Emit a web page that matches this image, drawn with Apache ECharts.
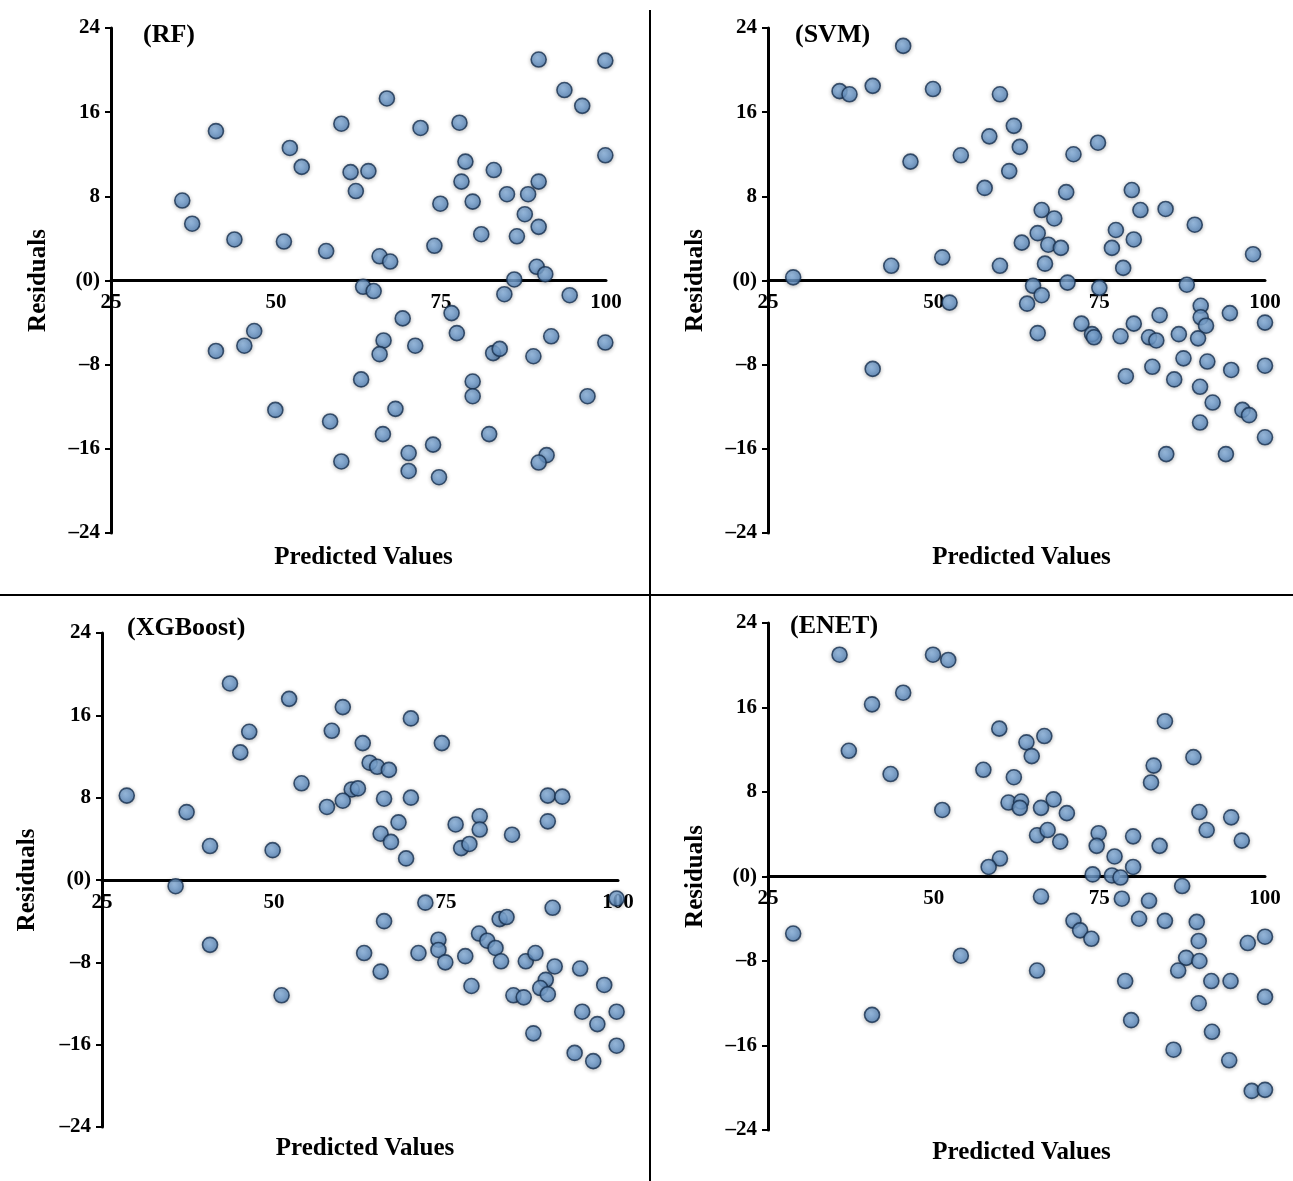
<!DOCTYPE html>
<html>
<head>
<meta charset="utf-8">
<script src="https://cdn.jsdelivr.net/npm/echarts@6/dist/echarts.min.js"></script>
<style>
  html, body { margin: 0; padding: 0; background: #fff; }
  #chart { width: 1293px; height: 1181px; }
</style>
</head>
<body>
<div id="chart"></div>
<script>
// residual plots, [predicted, residual]
const panelNames = ['(RF)', '(SVM)', '(XGBoost)', '(ENET)'];
const xTicks = [25, 50, 75, 100];
const yTicks = [-24, -16, -8, 0, 8, 16, 24];

const rfPoints = [
  [89.8,21.0],[99.9,20.9],[93.7,18.1],[96.4,16.6],[99.9,11.9],[66.8,17.3],[59.9,14.9],[40.9,14.2],
  [71.9,14.5],[77.8,15.0],[52.1,12.6],[53.9,10.8],[61.3,10.3],[64.0,10.4],[62.1,8.5],[78.7,11.3],
  [83.0,10.5],[78.1,9.4],[89.8,9.4],[35.8,7.6],[74.9,7.3],[79.8,7.5],[85.0,8.2],[88.2,8.2],
  [87.7,6.3],[89.8,5.1],[37.3,5.4],[43.7,3.9],[51.2,3.7],[57.6,2.8],[74.0,3.3],[81.1,4.4],
  [86.5,4.2],[65.7,2.3],[67.3,1.8],[89.5,1.3],[90.8,0.6],[86.1,0.1],[63.2,-0.6],[64.8,-1.0],
  [84.6,-1.3],[94.5,-1.4],[76.6,-3.1],[69.2,-3.6],[46.7,-4.8],[77.4,-5.0],[91.7,-5.3],[66.3,-5.7],
  [45.2,-6.2],[71.1,-6.2],[99.9,-5.9],[40.9,-6.7],[65.7,-7.0],[82.9,-6.9],[83.9,-6.5],[89.0,-7.2],
  [62.9,-9.4],[79.8,-9.6],[79.8,-11.0],[97.2,-11.0],[49.9,-12.3],[68.1,-12.2],[58.2,-13.4],[66.2,-14.6],
  [82.3,-14.6],[73.8,-15.6],[70.1,-16.4],[91.0,-16.6],[59.9,-17.2],[89.8,-17.3],[70.1,-18.1],[74.7,-18.7]
];

const svmPoints = [
  [45.4,22.3],[35.8,18.0],[37.3,17.7],[40.8,18.5],[49.9,18.2],[60.0,17.7],[62.1,14.7],[58.4,13.7],
  [63.0,12.7],[74.8,13.1],[71.1,12.0],[54.1,11.9],[46.5,11.3],[61.4,10.4],[57.7,8.8],[70.0,8.4],
  [79.9,8.6],[66.3,6.7],[68.2,5.9],[81.2,6.7],[85.0,6.8],[89.4,5.3],[65.7,4.5],[63.3,3.6],
  [67.3,3.4],[69.2,3.1],[77.5,4.8],[76.9,3.1],[80.2,3.9],[51.3,2.2],[43.6,1.4],[60.0,1.4],
  [66.8,1.6],[78.6,1.2],[98.2,2.5],[28.8,0.3],[70.2,-0.2],[65.0,-0.5],[75.0,-0.7],[88.2,-0.4],
  [66.3,-1.4],[52.4,-2.1],[64.1,-2.2],[84.1,-3.3],[90.3,-2.4],[90.3,-3.5],[94.7,-3.1],[72.3,-4.1],
  [80.2,-4.1],[91.1,-4.3],[100,-4.0],[65.7,-5.0],[73.9,-5.1],[74.2,-5.4],[78.2,-5.3],[82.5,-5.4],
  [83.6,-5.7],[87.0,-5.1],[89.9,-5.5],[87.7,-7.4],[91.3,-7.7],[83.0,-8.2],[100,-8.1],[94.9,-8.5],
  [40.8,-8.4],[79.0,-9.1],[86.3,-9.4],[90.2,-10.1],[92.1,-11.6],[96.6,-12.3],[97.6,-12.8],[90.2,-13.5],
  [100,-14.9],[85.1,-16.5],[94.1,-16.5]
];

const xgbPoints = [
  [43.6,19.1],[52.2,17.6],[60.0,16.8],[69.9,15.7],[46.4,14.4],[58.4,14.5],[62.9,13.3],[74.4,13.3],
  [45.1,12.4],[63.9,11.4],[65.0,11.0],[66.7,10.7],[54.0,9.4],[61.3,8.8],[62.2,8.9],[28.6,8.2],
  [89.8,8.2],[91.9,8.1],[66.0,7.9],[69.9,8.0],[60.0,7.7],[57.7,7.1],[37.3,6.6],[79.9,6.2],
  [89.8,5.7],[68.1,5.6],[76.4,5.4],[79.9,4.9],[84.6,4.4],[65.5,4.5],[67.0,3.7],[40.7,3.3],
  [49.8,2.9],[77.2,3.1],[78.4,3.5],[69.2,2.1],[35.7,-0.6],[72.0,-2.2],[90.5,-2.7],[99.8,-1.8],
  [66.0,-4.0],[82.8,-3.8],[83.8,-3.6],[40.7,-6.3],[79.8,-5.2],[81.0,-5.9],[73.9,-5.8],[73.9,-6.8],
  [82.2,-6.6],[63.1,-7.1],[71.0,-7.1],[74.9,-8.0],[77.8,-7.4],[83.0,-7.9],[86.6,-7.9],[88.0,-7.1],
  [90.8,-8.4],[94.5,-8.6],[65.5,-8.9],[78.7,-10.3],[98.0,-10.2],[89.5,-9.7],[88.7,-10.5],[89.8,-11.1],
  [84.8,-11.2],[86.3,-11.4],[51.1,-11.2],[94.8,-12.8],[99.8,-12.8],[97.0,-14.0],[87.7,-14.9],[99.8,-16.1],
  [93.7,-16.8],[96.4,-17.6]
];

const enetPoints = [
  [35.8,21.0],[49.9,21.0],[52.2,20.5],[45.4,17.4],[40.7,16.3],[84.9,14.7],[59.9,14.0],[66.7,13.3],
  [64.0,12.7],[37.2,11.9],[64.8,11.4],[89.2,11.3],[83.2,10.5],[43.5,9.7],[57.5,10.1],[62.1,9.4],
  [82.8,8.9],[68.1,7.3],[61.3,7.0],[63.2,7.1],[63.0,6.5],[66.2,6.5],[51.3,6.3],[70.1,6.0],
  [90.1,6.1],[94.9,5.6],[91.2,4.4],[65.6,3.9],[67.2,4.4],[69.1,3.3],[74.9,4.1],[74.6,2.9],
  [80.1,3.8],[84.1,2.9],[96.5,3.4],[77.3,1.9],[60.0,1.7],[58.3,0.9],[80.1,0.9],[74.0,0.2],
  [76.9,0.1],[78.2,-0.1],[87.5,-0.9],[66.2,-1.9],[78.4,-2.1],[82.5,-2.3],[81.0,-4.0],[84.9,-4.2],
  [89.7,-4.3],[71.1,-4.2],[72.1,-5.1],[73.8,-5.9],[90.0,-6.1],[97.4,-6.3],[100,-5.7],[28.8,-5.4],
  [54.1,-7.5],[88.1,-7.7],[90.1,-8.0],[86.9,-8.9],[65.6,-8.9],[78.9,-9.9],[91.9,-9.9],[94.8,-9.9],
  [100,-11.4],[90.0,-12.0],[40.7,-13.1],[79.8,-13.6],[92.0,-14.7],[86.2,-16.4],[94.6,-17.4],[98.0,-20.3],
  [100,-20.2]
];

const allPoints = [rfPoints, svmPoints, xgbPoints, enetPoints];

// plot area of each panel in pixels
const grids = [
  { left: 111, top: 28, width: 495, height: 505 },
  { left: 768, top: 28, width: 497, height: 505 },
  { left: 102, top: 633, width: 516, height: 494 },
  { left: 768, top: 623, width: 497, height: 507 }
];
const nameGaps = [60, 60, 62, 60];
const xNameTop = [540, 540, 1131, 1135];
const labelPos = [[138, 17], [790, 17], [122, 610], [785, 608]];

const serif = '"Liberation Serif", "Times New Roman", serif';

function yLabel(v) {
  if (v === 0) return '(0)';
  if (v < 0) return '\u2013' + Math.abs(v);
  return String(v);
}

let chart = echarts.init(document.getElementById('chart'));

let option = {
  backgroundColor: '#fff',
  animation: false,
  title: [],
  grid: grids.map(g => ({ left: g.left, top: g.top, width: g.width, height: g.height, containLabel: false })),
  xAxis: [],
  yAxis: [],
  series: [],
  graphic: [
    { type: 'line', shape: { x1: 650, y1: 10, x2: 650, y2: 1181 }, style: { stroke: '#000', lineWidth: 2 } },
    { type: 'line', shape: { x1: 0, y1: 595, x2: 1293, y2: 595 }, style: { stroke: '#000', lineWidth: 2 } }
  ]
};

grids.forEach((g, i) => {
  option.title.push({
    text: panelNames[i],
    left: labelPos[i][0], top: labelPos[i][1],
    textStyle: { fontFamily: serif, fontWeight: 'bold', fontSize: 26, color: '#000' }
  });
  option.title.push({
    text: 'Predicted Values',
    left: g.left + g.width / 2, top: xNameTop[i], textAlign: 'center',
    textStyle: { fontFamily: serif, fontWeight: 'bold', fontSize: 25, color: '#000' }
  });
  option.xAxis.push({
    gridIndex: i,
    type: 'value',
    min: xTicks[0], max: xTicks[xTicks.length - 1], interval: 25,
    // axis sits on residual = 0, which is the middle of the grid
    axisLine: { onZero: false, lineStyle: { color: '#000', width: 3 } },
    offset: -g.height / 2,
    axisTick: { show: false },
    splitLine: { show: false },
    axisLabel: {
      margin: 12, color: '#000', fontFamily: serif, fontWeight: 'bold', fontSize: 21
    }
  });
  option.yAxis.push({
    gridIndex: i,
    type: 'value',
    min: yTicks[0], max: yTicks[yTicks.length - 1], interval: 8,
    name: 'Residuals',
    nameLocation: 'middle',
    nameGap: nameGaps[i],
    nameTextStyle: { fontFamily: serif, fontWeight: 'bold', fontSize: 25, color: '#000' },
    axisLine: { show: true, lineStyle: { color: '#000', width: 3 } },
    axisTick: { show: true, length: 6, lineStyle: { color: '#000', width: 2 } },
    splitLine: { show: false },
    axisLabel: {
      margin: 11, color: '#000', fontFamily: serif, fontWeight: 'bold', fontSize: 21,
      formatter: yLabel
    }
  });
  option.series.push({
    type: 'scatter',
    xAxisIndex: i, yAxisIndex: i,
    data: allPoints[i],
    symbolSize: 15,
    itemStyle: {
      color: {
        type: 'radial', x: 0.4, y: 0.35, r: 0.75,
        colorStops: [{ offset: 0, color: '#8cb6e2' }, { offset: 1, color: '#4a7bb3' }]
      },
      borderColor: '#16304f',
      borderWidth: 1.6,
      shadowBlur: 4,
      shadowColor: 'rgba(0,0,0,0.3)',
      shadowOffsetY: 1
    }
  });
});

chart.setOption(option);
</script>
</body>
</html>
